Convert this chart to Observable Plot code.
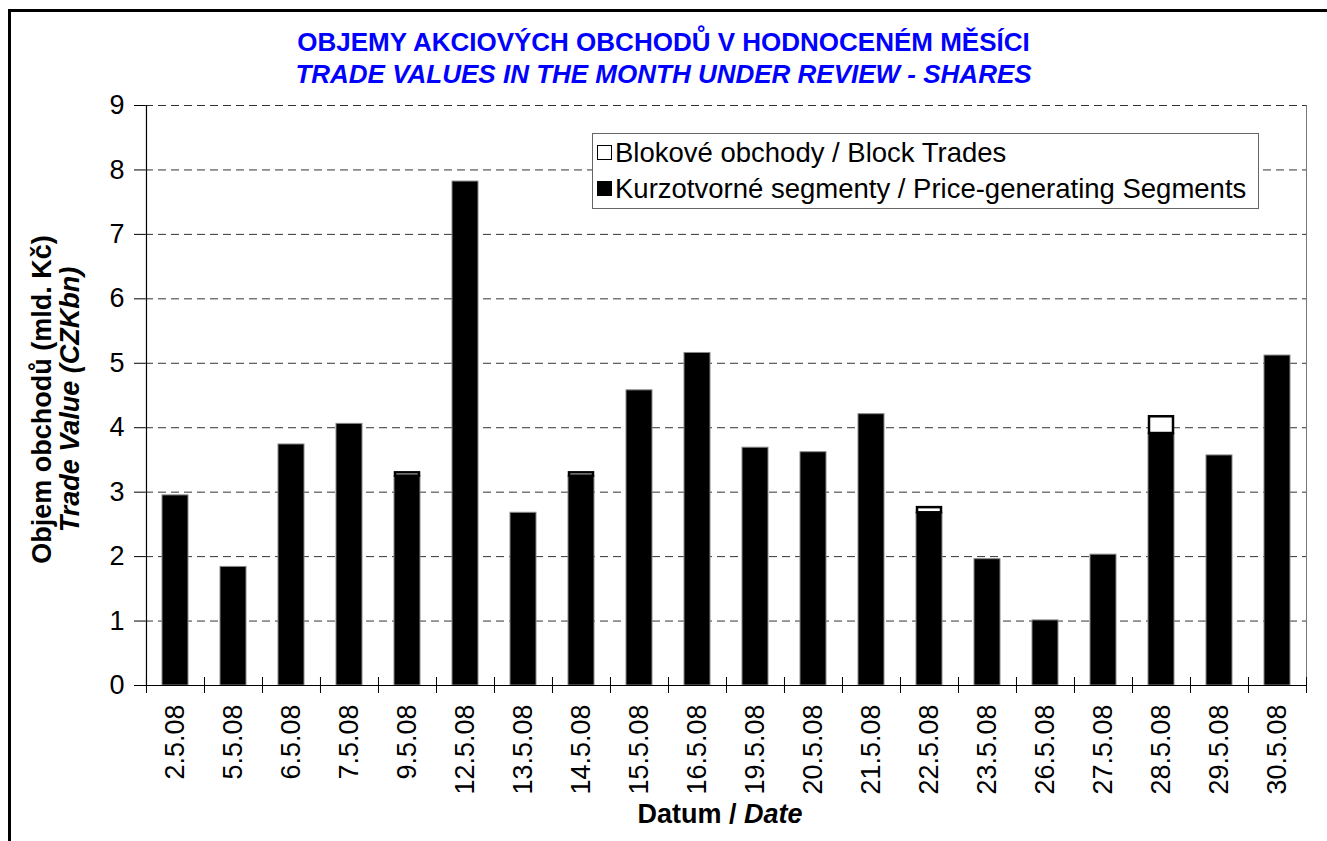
<!DOCTYPE html>
<html>
<head>
<meta charset="utf-8">
<script src="https://cdn.jsdelivr.net/npm/d3@7"></script>
<script src="https://cdn.jsdelivr.net/npm/@observablehq/plot@0.6"></script>
<style>
  html, body { margin: 0; padding: 0; background: #fff; }
  #wrap { position: relative; width: 1327px; height: 841px; overflow: hidden; font-family: "Liberation Sans", Arial, sans-serif; }
  #wrap svg { position: absolute; left: 0; top: 0; }
  .abs { position: absolute; white-space: nowrap; line-height: 1.15; }
  .title { color: #0000ff; font-weight: bold; font-size: 26px; text-align: center; width: 1327px; left: 0; }
  .rot { transform: rotate(-90deg); text-align: center; width: 600px; font-weight: bold; font-size: 27px; }
  #legend { position: absolute; left: 592px; top: 133px; width: 667px; height: 76px; border: 1px solid #666; background: #fff; box-sizing: border-box; font-size: 27.5px; line-height: 1.15; }
  .lrow { position: absolute; left: 4px; display: flex; align-items: center; white-space: nowrap; }
  .sw { width: 15px; height: 15px; box-sizing: border-box; border: 1.5px solid #000; margin-right: 3px; }
  #frame { position: absolute; left: 8px; top: 9px; width: 1330px; height: 850px; border-left: 3px solid #000; border-top: 3px solid #000; }
</style>
</head>
<body>
<div id="wrap">
  <div id="frame"></div>
</div>
<script>
// ---- data ----
const dates = ["2.5.08","5.5.08","6.5.08","7.5.08","9.5.08","12.5.08","13.5.08","14.5.08","15.5.08","16.5.08","19.5.08","20.5.08","21.5.08","22.5.08","23.5.08","26.5.08","27.5.08","28.5.08","29.5.08","30.5.08"];
const priceGenerating = [2.95,1.84,3.74,4.06,3.25,7.82,2.68,3.25,4.58,5.16,3.69,3.62,4.21,2.68,1.96,1.01,2.03,3.91,3.57,5.12];
const blockTrades = [0,0,0,0,0.05,0,0,0.05,0,0,0,0,0,0.08,0,0,0,0.26,0,0];
const yTicks = [0,1,2,3,4,5,6,7,8,9];
const gridTicks = [1,2,3,4,5,6,7,8,9];

const titleCz = "OBJEMY AKCIOVÝCH OBCHODŮ V HODNOCENÉM MĚSÍCI";
const titleEn = "TRADE VALUES IN THE MONTH UNDER REVIEW - SHARES";
const yLabelCz = "Objem obchodů (mld. Kč)";
const yLabelEn = "Trade Value (CZKbn)";
const xLabelCz = "Datum / ";
const xLabelEn = "Date";
const legendBlock = "Blokové obchody / Block Trades";
const legendPrice = "Kurzotvorné segmenty / Price-generating Segments";

// ---- table ----
const rows = dates.map((d, i) => ({date: d, price: priceGenerating[i], block: blockTrades[i]}));
const blockRows = rows.filter(r => r.block > 0);

const W = 1327, H = 841, mL = 145, mR = 21, mT = 105, mB = 156;
const step = (W - mL - mR) / dates.length;

const chart = Plot.plot({
  width: W, height: H,
  marginLeft: mL, marginRight: mR, marginTop: mT, marginBottom: mB,
  style: {fontFamily: "'Liberation Sans', Arial, sans-serif", fontSize: "27px", background: "transparent", color: "#000"},
  x: {domain: dates, paddingInner: 0.56, paddingOuter: 0.28},
  y: {domain: [0, 9]},
  marks: [
    Plot.gridY(gridTicks, {stroke: "#000", strokeOpacity: 0.8, strokeDasharray: "8,5", strokeWidth: 1}),
    Plot.barY(rows, {x: "date", y: "price", fill: "#000", stroke: "#888", strokeWidth: 1}),
    Plot.barY(blockRows, {x: "date", y1: "price", y2: d => d.price + d.block, fill: "#fff", stroke: "#000", strokeWidth: 2.5, insetLeft: 1, insetRight: 1}),
    Plot.ruleY([0], {stroke: "#000", strokeWidth: 1.2}),
    Plot.ruleX([dates[0]], {dx: -step / 2, y1: 0, y2: 9, stroke: "#000", strokeWidth: 1.2}),
    Plot.ruleX([dates[dates.length - 1]], {dx: step / 2, y1: 0, y2: 9, stroke: "#777", strokeWidth: 1}),
    Plot.ruleX(dates, {x: d => d, dx: -step / 2, y1: 0, y2: 0, insetTop: -8, insetBottom: -8, stroke: "#000"}),
    Plot.ruleX([dates[dates.length - 1]], {dx: step / 2, y1: 0, y2: 0, insetTop: -8, insetBottom: -8, stroke: "#000"}),
    Plot.axisY({ticks: yTicks, tickSize: 11, tickPadding: 10, label: null, fontSize: 27}),
    Plot.axisX({tickRotate: -90, tickSize: 0, tickPadding: 19, label: null, fontSize: 27})
  ]
});
const wrap = document.getElementById("wrap");
wrap.insertBefore(chart, wrap.firstChild);

function addDiv(cls, html, css) {
  const d = document.createElement("div");
  d.className = "abs " + cls;
  d.innerHTML = html;
  Object.assign(d.style, css);
  wrap.appendChild(d);
  return d;
}
addDiv("title", titleCz, {top: "28px"});
addDiv("title", "<i>" + titleEn + "</i>", {top: "60px"});
addDiv("rot", yLabelCz, {left: (43 - 300) + "px", top: (400 - 16) + "px"});
addDiv("rot", "<i>" + yLabelEn + "</i>", {left: (71 - 300) + "px", top: (400 - 16) + "px"});
addDiv("", "<b>" + xLabelCz + "<i>" + xLabelEn + "</i></b>", {left: "0px", width: "1440px", textAlign: "center", top: "799px", fontSize: "27px"});

const lg = document.createElement("div");
lg.id = "legend";
lg.innerHTML =
  `<div class="lrow" style="top:3px"><div class="sw" style="background:#fff"></div><span>${legendBlock}</span></div>` +
  `<div class="lrow" style="top:39px"><div class="sw" style="background:#000"></div><span>${legendPrice}</span></div>`;
wrap.appendChild(lg);
</script>
</body>
</html>
